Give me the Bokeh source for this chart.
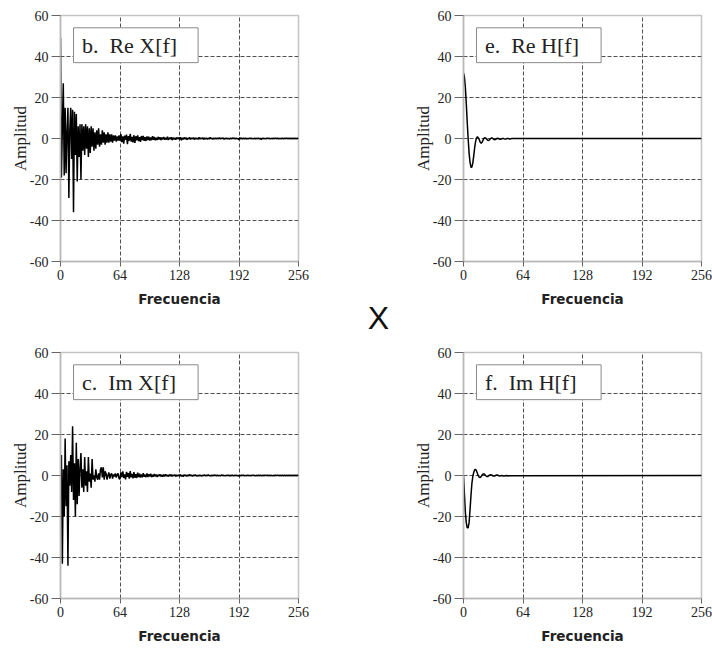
from bokeh.plotting import figure
from bokeh.layouts import row, column
from bokeh.models import Range1d, FixedTicker, Label, BoxAnnotation
from bokeh.embed import file_html
from bokeh.resources import INLINE

# ---------------- data ----------------
x_ticks = [0, 64, 128, 192, 256]
y_ticks = [-60, -40, -20, 0, 20, 40, 60]
y_tick_labels = ["-60", "-40", "-20", "0", "20", "40", "60"]

freq_x = list(range(257))

re_x = [
    49, -19, 6, 27, -18, 15, -17, 3,
    15, -29, 4, 15, -10, 14, -36, 13,
    -8, 12, -21, 6, -9, 7, -20, 7,
    -6, 6, -8, 7, -5, 6, -9, 5,
    -7, 6, -4, 5, -6, 3, -5, 4,
    -3, 5, -4, 2, -3, 4, -2, 3,
    -3, 2, -2, 3, -2, 2, -1.5, 2,
    -2, 1.5, -1, 1.5, -1.5, 1, -1, 1.5,
    -1.2, 2.1, -1.8, 1.0, -2.5, 1.4, -0.6, 1.9,
    -2.8, 1.2, -1.1, 2.3, -1.5, 0.8, -1.9, 1.6,
    -2.2, 1.1, -0.9, 1.5, -1.3, 0.7, -1.6, 1.2,
    -0.8, 1.3, -1.1, 0.6, -1.2, 1.0, -0.7, 0.9,
    -1.0, 0.5, -0.8, 1.1, -0.6, 0.7, -0.9, 0.4,
    -0.7, 0.8, -0.5, 0.6, -0.8, 0.5, -0.4, 0.7,
    -0.6, 0.3, -0.5, 0.9, -0.7, 0.4, -0.3, 0.6,
    -0.8, 0.5, -0.4, 0.3, -0.6, 0.5, -0.2, 0.4,
    -0.5, 0.6, -0.9, 0.3, -0.4, 0.5, -0.3, 0.4,
    -0.6, 0.2, -0.3, 0.5, -0.4, 0.3, -0.2, 0.4,
    -0.5, 0.3, -0.3, 0.2, -0.4, 0.6, -0.3, 0.2,
    -0.2, 0.4, -0.5, 0.3, -0.2, 0.3, -0.4, 0.2,
    -0.3, 0.5, -0.2, 0.2, -0.4, 0.3, -0.2, 0.3,
    -0.3, 0.2, -0.2, 0.4, -0.3, 0.2, -0.1, 0.3,
    -0.4, 0.2, -0.2, 0.3, -0.2, 0.1, -0.3, 0.2,
    -0.2, 0.3, -0.1, 0.2, -0.3, 0.2, -0.2, 0.1,
    -0.6, 0.4, -0.3, 0.2, -0.2, 0.3, -0.2, 0.2,
    -0.3, 0.1, -0.2, 0.2, -0.1, 0.2, -0.2, 0.1,
    -0.2, 0.3, -0.2, 0.1, -0.1, 0.2, -0.2, 0.1,
    -0.5, 0.2, -0.1, 0.1, -0.2, 0.1, -0.1, 0.2,
    -0.1, 0.1, -0.2, 0.1, -0.1, 0.1, -0.1, 0.2,
    -0.1, 0.1, -0.1, 0.1, -0.2, 0.1, -0.1, 0.1,
    -0.1, 0.1, -0.1, 0.2, -0.1, 0.1, -0.1, 0.1,
    -0.1, 0.1, -0.1, 0.1, -0.1, 0.1, -0.1, 0.1,
    0.0,
]

im_x = [
    0, 10, -43, 3, -20, 18, -15, 5,
    -44, 7, -5, 10, -8, 24, -12, 6,
    -20, 16, -14, 8, -10, 4, 11, -6,
    3, -8, 9, -5, 2, -8, 9, -3,
    1, -6, 8, -2, 0, -3, 3, -1,
    -2, 1, -2, 3, 4, -1, 4, -2,
    2, 1, -2, 0, 1.5, -1.5, 0.5, 1,
    -1.5, 0.5, -0.5, 1, -1, 0.5, 1, -1.5,
    -1.8, 1.5, -0.8, 2.0, -1.2, 0.6, -1.9, 1.8,
    -0.7, 1.2, -1.5, 2.2, -0.9, 0.8, -1.4, 1.7,
    -1.1, 0.6, -1.2, 1.4, -0.8, 0.9, -1.0, 0.5,
    -0.9, 1.1, -0.6, 0.4, -0.8, 1.0, -0.7, 0.6,
    -0.5, 0.9, -0.8, 0.3, -0.6, 0.7, -0.4, 0.5,
    -0.7, 0.4, -0.3, 0.6, -0.5, 0.3, -0.6, 0.5,
    -0.4, 0.6, -0.3, 0.2, -0.5, 0.4, -0.3, 0.5,
    -0.4, 0.3, -0.2, 0.4, -0.5, 0.3, -0.3, 0.2,
    -0.3, 0.5, -0.4, 0.2, -0.6, 0.4, -0.2, 0.3,
    -0.4, 0.3, -0.3, 0.5, -0.2, 0.2, -0.4, 0.3,
    -0.2, 0.4, -0.3, 0.1, -0.3, 0.3, -0.2, 0.2,
    -0.4, 0.2, -0.1, 0.3, -0.3, 0.2, -0.2, 0.4,
    -0.2, 0.1, -0.3, 0.2, -0.2, 0.3, -0.1, 0.2,
    -0.3, 0.2, -0.2, 0.1, -0.2, 0.3, -0.1, 0.2,
    -0.2, 0.1, -0.2, 0.2, -0.1, 0.2, -0.3, 0.1,
    -0.1, 0.2, -0.2, 0.1, -0.1, 0.2, -0.2, 0.1,
    -0.4, 0.3, -0.2, 0.2, -0.1, 0.2, -0.2, 0.1,
    -0.2, 0.2, -0.1, 0.1, -0.2, 0.1, -0.1, 0.2,
    -0.1, 0.1, -0.2, 0.1, -0.1, 0.1, -0.1, 0.2,
    -0.2, 0.1, -0.1, 0.1, -0.1, 0.2, -0.1, 0.1,
    -0.1, 0.1, -0.1, 0.1, -0.2, 0.1, -0.1, 0.1,
    -0.1, 0.2, -0.1, 0.1, -0.1, 0.1, -0.1, 0.1,
    -0.1, 0.1, -0.1, 0.1, -0.1, 0.1, -0.1, 0.1,
    -0.1, 0.1, -0.1, 0.1, -0.1, 0.1, -0.1, 0.1,
    0.0,
]

freq_h = list(range(53)) + [256]

re_h = [
    32, 30, 25, 17, 8, 0, -7, -11.5,
    -14, -14, -12, -8.5, -4.5, -1.5, 0.3, 0.8,
    0.3, -0.6, -1.8, -2.3, -1.8, -0.8, 0.1, 0.4,
    0.2, -0.4, -0.9, -1.0, -0.6, -0.1, 0.2, 0.2,
    -0.2, -0.5, -0.6, -0.3, 0.0, 0.1, -0.1, -0.4,
    -0.4, -0.2, 0.0, 0.0, -0.2, -0.3, -0.2, 0.0,
    0.0, -0.1, -0.2, -0.1, 0.0,
    0.0,
]

im_h = [
    0, -9, -18, -23, -25.5, -25.5, -23, -17,
    -10, -4, -0.5, 1.5, 2.8, 3, 2.2, 1,
    -0.2, -0.9, -1, -0.5, 0.2, 0.7, 0.8, 0.4,
    -0.1, -0.5, -0.5, -0.2, 0.2, 0.4, 0.3, 0.0,
    -0.3, -0.3, -0.1, 0.1, 0.2, 0.1, -0.1, -0.2,
    -0.1, 0.0, -0.1, -0.2, -0.2, -0.1, 0.0, -0.1,
    -0.2, -0.1, -0.1, -0.1, -0.1,
    0.0,
]

tags = ["b.\u00a0\u00a0Re X[f]", "e.\u00a0\u00a0Re H[f]",
        "c.\u00a0\u00a0Im X[f]", "f.\u00a0\u00a0Im H[f]"]
operator = "X"

SERIF = "Liberation Serif"
GRID = "#505050"
AXIS = "#b8b8b8"


def panel(freq, vals, tag, left, right, top, bottom):
    p = figure(frame_width=238, frame_height=246,
               x_range=Range1d(0, 256), y_range=Range1d(-60, 60),
               output_backend="svg", toolbar_location=None,
               min_border_left=left, min_border_right=right,
               min_border_top=top, min_border_bottom=bottom,
               background_fill_color="white", border_fill_color="white")
    p.outline_line_color = "#c4c4c4"
    p.outline_line_width = 1.5

    p.xaxis.ticker = FixedTicker(ticks=x_ticks)
    p.yaxis.ticker = FixedTicker(ticks=y_ticks)
    p.yaxis.major_label_overrides = dict(zip(y_ticks, y_tick_labels))
    p.xgrid.ticker = FixedTicker(ticks=[64, 128, 192])
    p.ygrid.ticker = FixedTicker(ticks=[-40, -20, 0, 20, 40])
    for g in (p.xgrid, p.ygrid):
        g.grid_line_color = GRID
        g.grid_line_dash = "4 2"
        g.grid_line_width = 1

    for ax in (p.xaxis, p.yaxis):
        ax.axis_line_color = AXIS
        ax.axis_line_width = 1.5
        ax.major_tick_line_color = "#666666"
        ax.major_tick_in = 0
        ax.minor_tick_line_color = None
        ax.major_label_text_font = SERIF
        ax.major_label_text_font_size = "14px"
        ax.major_label_text_color = "#222222"

    p.yaxis.major_tick_out = 9
    p.yaxis.major_label_standoff = 3
    p.yaxis.axis_label = "Amplitud"
    p.yaxis.axis_label_text_font = SERIF
    p.yaxis.axis_label_text_font_size = "17px"
    p.yaxis.axis_label_text_font_style = "normal"
    p.yaxis.axis_label_text_color = "#222222"
    p.yaxis.axis_label_standoff = -3

    p.xaxis.major_tick_out = 5
    p.xaxis.major_label_standoff = 3
    p.xaxis.axis_label = "Frecuencia"
    p.xaxis.axis_label_text_font = "DejaVu Sans"
    p.xaxis.axis_label_text_font_size = "13.5px"
    p.xaxis.axis_label_text_font_style = "bold"
    p.xaxis.axis_label_text_color = "#222222"
    p.xaxis.axis_label_standoff = 8

    p.line(freq, vals, line_color="black", line_width=1.5)

    p.add_layout(BoxAnnotation(left=14, right=148, bottom=37, top=54,
                               fill_color="white", fill_alpha=1,
                               line_color="#8a8a8a", line_alpha=1, line_width=1))
    p.add_layout(Label(x=23, y=45.5, text=tag, text_font=SERIF,
                       text_font_size="22px", text_color="#222222",
                       text_baseline="middle", text_align="left"))
    return p


p_b = panel(freq_x, re_x, tags[0], 60, 32, 15, 79)
p_e = panel(freq_h, re_h, tags[1], 63, 11, 15, 79)
p_c = panel(freq_x, im_x, tags[2], 60, 102, 12, 52)
p_f = panel(freq_h, im_h, tags[3], 63, 11, 12, 52)

# narrow middle strip: its (empty) bottom axis carries the multiplication sign
p_mid = figure(frame_width=44, frame_height=246,
               x_range=Range1d(0, 1), y_range=Range1d(0, 1),
               output_backend="svg", toolbar_location=None,
               min_border_left=26, min_border_right=0,
               min_border_top=15, min_border_bottom=79)
p_mid.yaxis.visible = False
p_mid.grid.visible = False
p_mid.outline_line_color = None
p_mid.xaxis.ticker = FixedTicker(ticks=[])
p_mid.xaxis.axis_line_color = None
p_mid.xaxis.major_tick_line_color = None
p_mid.xaxis.minor_tick_line_color = None
p_mid.xaxis.axis_label = operator
p_mid.xaxis.axis_label_text_font = "Liberation Sans"
p_mid.xaxis.axis_label_text_font_size = "32px"
p_mid.xaxis.axis_label_text_font_style = "normal"
p_mid.xaxis.axis_label_text_color = "#111111"
p_mid.xaxis.axis_label_standoff = 38

layout = column(row(p_b, p_mid, p_e), row(p_c, p_f))

open("out.html", "w").write(file_html(layout, INLINE))
